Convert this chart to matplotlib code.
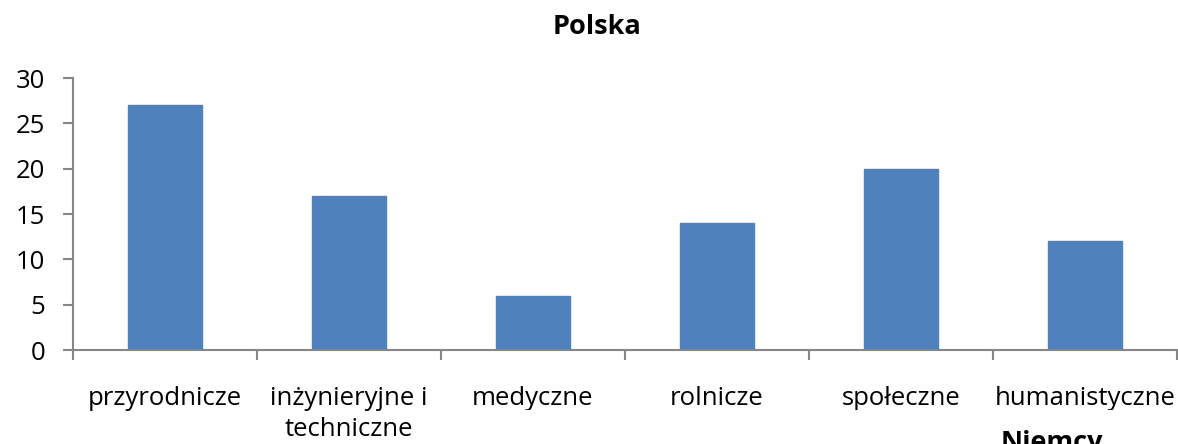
import matplotlib
matplotlib.use("Agg")
import matplotlib.pyplot as plt
from matplotlib.transforms import Bbox
import numpy as np

categories = ["przyrodnicze", "inżynieryjne i\ntechniczne", "medyczne",
              "rolnicze", "społeczne", "humanistyczne"]
values = [27, 17, 6, 14, 20, 12]
title = "Polska"
next_title = "Niemcy"

plt.rcParams['font.family'] = ['Open Sans', 'DejaVu Sans']

W, H = 1178, 444
fig = plt.figure(figsize=(W / 100, H / 100), dpi=100)
ax = fig.add_axes([73 / W, (H - 350) / H, (1177 - 73) / W, (350 - 78) / H])

x = np.arange(len(categories))
ax.bar(x, values, width=0.4, color="#4F81BD", edgecolor="#4F81BD", zorder=2)

ax.set_xlim(-0.5, len(categories) - 0.5)
ax.set_ylim(0, 30)
ax.set_yticks(range(0, 31, 5))

axis_col = "#868686"
for s in ["top", "right"]:
    ax.spines[s].set_visible(False)
for s in ["left", "bottom"]:
    ax.spines[s].set_color(axis_col)
    ax.spines[s].set_linewidth(1.5)

# boundary ticks (major), centered labels (minor)
ax.set_xticks(np.arange(-0.5, len(categories), 1.0))
ax.set_xticklabels([])
ax.set_xticks(x, minor=True)
ax.set_xticklabels(categories, minor=True, fontsize=18.5, linespacing=1.3)
ax.tick_params(axis="x", which="major", length=7, width=1.5, color=axis_col)
ax.tick_params(axis="x", which="minor", length=0, pad=26)
ax.tick_params(axis="y", length=7, width=1.5, color=axis_col,
               labelsize=18.5, pad=13)

fig.text(597 / W, 1 - 27 / H, title, ha="center", va="center",
         fontsize=19.5, fontweight="bold")
fig.text(1052 / W, 1 - 430 / H, next_title, ha="center", va="top",
         fontsize=19.5, fontweight="bold")

# the single-line labels after the second one lose their descenders
clip = Bbox.from_extents(0, H - 410, W, H)
for lab in ax.get_xticklabels(minor=True)[2:]:
    lab.set_clip_box(clip)
    lab.set_clip_on(True)

fig.savefig("out.png", dpi=100)
